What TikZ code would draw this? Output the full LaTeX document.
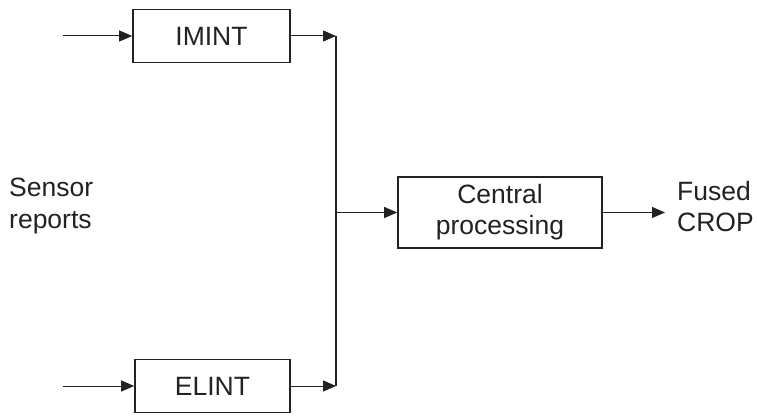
\documentclass[tikz,border=0pt]{standalone}
\usepackage{fontspec}
\setmainfont{Liberation Sans}
\usetikzlibrary{arrows.meta}
\definecolor{ink}{HTML}{222222}
\begin{document}
\begin{tikzpicture}[x=1pt,y=1pt,
  blk/.style={draw=ink,line width=1.6pt,minimum height=53pt,inner sep=0pt,font=\fontsize{26.5}{31}\selectfont,text=ink},
  lbl/.style={font=\fontsize{26.5}{31}\selectfont,text=ink,inner sep=0pt},
  conn/.style={draw=ink,line width=1pt,-{Triangle[length=13pt,width=11pt]}},
  plain/.style={draw=ink,line width=1.2pt}]
\useasboundingbox (0,0) rectangle (757,415);
\node[blk,minimum width=157pt] (imint) at (211.5,379) {IMINT};
\node[blk,minimum width=155pt] (elint) at (212.5,29) {ELINT};
\node[blk,minimum width=204pt,minimum height=71pt,align=center] (cen) at (500,202.5) {Central\\processing};
\node[lbl,align=left,anchor=west] (sensor) at (9,209) {Sensor\\reports};
\node[lbl,align=left,anchor=west] (fused) at (677,208) {Fused\\CROP};
\coordinate (in1) at (63,379);
\coordinate (in2) at (63,29);
\coordinate (j1) at (336,379);
\coordinate (j2) at (336,29);
\coordinate (out) at (665,202.5);
\draw[conn] (in1) -- (imint.west);
\draw[conn] (in2) -- (elint.west);
\draw[conn] (imint.east) -- (j1);
\draw[conn] (elint.east) -- (j2);
\draw[plain] (j1) -- (j2);
\draw[conn] (j1|-cen.west) -- (cen.west);
\draw[conn] (cen.east) -- (out);
\end{tikzpicture}
\end{document}
